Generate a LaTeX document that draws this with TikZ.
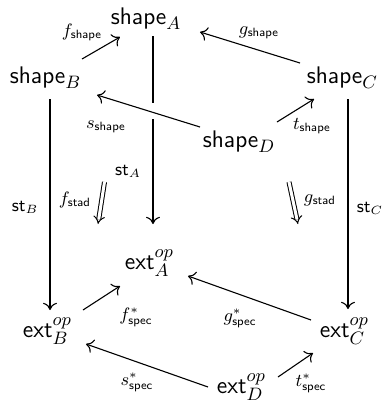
\documentclass[tikz,border=0pt]{standalone}
\usetikzlibrary{arrows.meta}
\begin{document}
\begin{tikzpicture}[x=0.5pt,y=-0.5pt,
  obj/.style={inner sep=0pt, outer sep=0pt, anchor=base west, font=\fontsize{12.6}{15}\selectfont},
  lab/.style={inner sep=0pt, font=\fontsize{13}{15}\selectfont},
  arr/.style={line width=0.55pt, -{Computer Modern Rightarrow[length=3.6pt,width=7pt]}},
  dbl/.style={double, double distance=1.5pt, line width=0.5pt, -{Implies}}]
\useasboundingbox (0,0) rectangle (385,414);
% objects
\node[obj] (sA) at (111,24) {$\mathsf{shape}_A$};
\node[obj] (sB) at (10,83) {$\mathsf{shape}_B$};
\node[obj] (sC) at (307,83) {$\mathsf{shape}_C$};
\node[obj] (sD) at (203,147) {$\mathsf{shape}_D$};
\node[obj] (eA) at (125,269) {$\mathsf{ext}^{op}_A$};
\node[obj] (eB) at (23,337) {$\mathsf{ext}^{op}_B$};
\node[obj] (eC) at (320,337) {$\mathsf{ext}^{op}_C$};
\node[obj] (eD) at (217,393) {$\mathsf{ext}^{op}_D$};
% vertical arrows
\draw[arr] ([shift={(42,12)}]sA.base west) -- ([shift={(28,-45)}]eA.base west);
\draw[arr] ([shift={(40,16)}]sB.base west) -- ([shift={(27,-27)}]eB.base west);
\draw[arr] ([shift={(41,16)}]sC.base west) -- ([shift={(28,-28)}]eC.base west);
% gap where s_shape crosses st_A
\fill[white] (149.5,103) rectangle (156.5,119);
% top face
\draw[arr] ([shift={(72,-24)}]sB.base west) -- ([shift={(9,13)}]sA.base west);
\draw[arr] ([shift={(-7,-20)}]sC.base west) -- ([shift={(89,8)}]sA.base west);
\draw[arr] ([shift={(74,-25)}]sD.base west) -- ([shift={(7,16)}]sC.base west);
\draw[arr] ([shift={(-3,-20)}]sD.base west) -- ([shift={(87,12)}]sB.base west);
% bottom face
\draw[arr] ([shift={(60,-27)}]eB.base west) -- ([shift={(-5,17)}]eA.base west);
\draw[arr] ([shift={(-9,-17)}]eC.base west) -- ([shift={(63,7)}]eA.base west);
\draw[arr] ([shift={(61,-16)}]eD.base west) -- ([shift={(-7,16)}]eC.base west);
\draw[arr] ([shift={(-9,-6)}]eD.base west) -- ([shift={(63,7)}]eB.base west);
% 2-cells
\coordinate (fa) at (104.5,182);
\coordinate (fb) at (98,224);
\coordinate (ga) at (289,182);
\coordinate (gb) at (298,224);
\draw[dbl] (fa) -- (fb);
\draw[dbl] (ga) -- (gb);
% labels
\node[lab] (lfsh) at (82,32) {$\scriptstyle f_{\mathsf{shape}}$};
\node[lab] (lgsh) at (259,33) {$\scriptstyle g_{\mathsf{shape}}$};
\node[lab] (ltsh) at (312,126) {$\scriptstyle t_{\mathsf{shape}}$};
\node[lab] (lssh) at (106,127) {$\scriptstyle s_{\mathsf{shape}}$};
\node[lab] (lstB) at (25,207) {$\scriptstyle \mathsf{st}_B$};
\node[lab] (lstA) at (128,171) {$\scriptstyle \mathsf{st}_A$};
\node[lab] (lstC) at (370,208) {$\scriptstyle \mathsf{st}_C$};
\node[lab] (lfst) at (75,200) {$\scriptstyle f_{\mathsf{stad}}$};
\node[lab] (lgst) at (320,200) {$\scriptstyle g_{\mathsf{stad}}$};
\node[lab] (lfsp) at (136,317) {$\scriptstyle f^*_{\mathsf{spec}}$};
\node[lab] (lgsp) at (240,318) {$\scriptstyle g^*_{\mathsf{spec}}$};
\node[lab] (ltsp) at (311,383) {$\scriptstyle t^*_{\mathsf{spec}}$};
\node[lab] (lssp) at (137,382) {$\scriptstyle s^*_{\mathsf{spec}}$};
\end{tikzpicture}
\end{document}
